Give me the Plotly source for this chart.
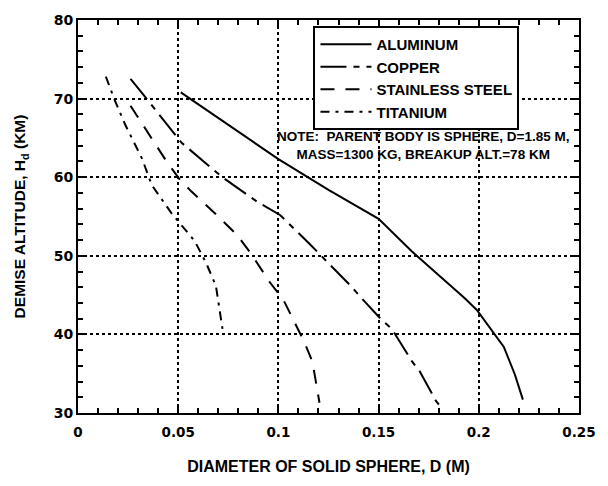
import plotly.graph_objects as go

# ---- data ----
al_x = [0.0513, 0.1, 0.125, 0.15, 0.1664, 0.193, 0.199, 0.208, 0.2125, 0.218, 0.222]
al_y = [70.8, 62.3, 58.4, 54.7, 50.6, 44.6, 43.1, 40.0, 38.4, 34.9, 31.7]

cu_x = [0.0262, 0.0336, 0.0516, 0.072, 0.0893, 0.1008, 0.1156, 0.1205, 0.136, 0.1415,
        0.1513, 0.1566, 0.1666, 0.1705, 0.1787, 0.181]
cu_y = [72.5, 70.2, 64.4, 60.0, 56.9, 55.2, 51.5, 50.2, 46.2, 44.6,
        41.9, 40.7, 36.6, 35.3, 31.5, 30.8]

ss_x = [0.0262, 0.0368, 0.0442, 0.0508, 0.0565, 0.0696, 0.0795, 0.086, 0.0958, 0.1025,
        0.1075, 0.113, 0.117, 0.1197, 0.1205]
ss_y = [69.1, 64.9, 62.0, 59.7, 58.2, 55.1, 52.6, 50.4, 46.6, 44.4,
        41.8, 39.0, 36.5, 32.7, 31.3]

ti_x = [0.0139, 0.018, 0.0237, 0.0319, 0.0368, 0.0467, 0.0582, 0.0639, 0.0688, 0.0713, 0.0721]
ti_y = [72.8, 70.0, 66.6, 62.4, 59.0, 55.4, 51.9, 49.1, 46.2, 42.2, 40.7]

series_names = ["ALUMINUM", "COPPER", "STAINLESS STEEL", "TITANIUM"]
x_tickvals = [0, 0.05, 0.1, 0.15, 0.2, 0.25]
x_ticktext = ["0", "0.05", "0.1", "0.15", "0.2", "0.25"]
y_tickvals = [30, 40, 50, 60, 70, 80]
note_text = "NOTE:  PARENT BODY IS SPHERE, D=1.85 M,<br>MASS=1300 KG, BREAKUP ALT.=78 KM"

FONT = "Liberation Sans, Arial, sans-serif"
TICKFONT = "DejaVu Sans, sans-serif"

fig = go.Figure()
styles = [
    dict(color="black", width=2, dash="solid"),
    dict(color="black", width=2, dash="26px,7px,6px,7px"),
    dict(color="black", width=2, dash="14px,11px"),
    dict(color="black", width=2, dash="9px,6px,3px,6px"),
]
for (xs, ys), name, st in zip([(al_x, al_y), (cu_x, cu_y), (ss_x, ss_y), (ti_x, ti_y)],
                               series_names, styles):
    fig.add_trace(go.Scatter(x=xs, y=ys, mode="lines", name=name, line=st))

fig.add_annotation(text=note_text, xref="paper", yref="paper", x=0.688, y=0.681,
                   xanchor="center", yanchor="middle", align="center",
                   showarrow=False,
                   font=dict(family=FONT, size=13.5, color="black", weight="bold"))

axis_common = dict(
    showline=True, linecolor="black", linewidth=2, mirror="allticks",
    ticks="inside", ticklen=6, tickwidth=1.5, tickcolor="black",
    showgrid=True, gridcolor="black", gridwidth=1.5, griddash="dot",
    zeroline=False,
)

fig.update_xaxes(range=[0, 0.25], tickvals=x_tickvals, ticktext=x_ticktext,
                 ticklabelstandoff=6,
                 tickfont=dict(family=TICKFONT, size=13.5, color="black", weight="bold"),
                 minor=dict(ticks="inside", ticklen=5, tickwidth=1.5, tickcolor="black",
                            dtick=0.01, tick0=0, showgrid=False),
                 title=dict(text="DIAMETER OF SOLID SPHERE, D (M)", standoff=22,
                            font=dict(family=FONT, size=16, color="black", weight="bold")),
                 **axis_common)
fig.update_yaxes(range=[30, 80], tickvals=y_tickvals,
                 tickfont=dict(family=TICKFONT, size=14, color="black", weight="bold"),
                 minor=dict(ticks="inside", ticklen=5, tickwidth=1.5, tickcolor="black",
                            dtick=2, tick0=30, showgrid=False),
                 title=dict(text="DEMISE ALTITUDE, H<sub>d</sub> (KM)", standoff=24,
                            font=dict(family=FONT, size=15.5, color="black", weight="bold")),
                 **axis_common)

fig.update_layout(
    width=608, height=486,
    margin=dict(l=78, r=21, t=17, b=73),
    paper_bgcolor="white", plot_bgcolor="white",
    showlegend=True,
    legend=dict(x=0.47, y=0.985, xanchor="left", yanchor="top",
                bgcolor="white", bordercolor="black", borderwidth=2,
                itemwidth=51, tracegroupgap=0,
                font=dict(family=FONT, size=15, color="black", weight="bold")),
)

fig.write_html("out.html")
